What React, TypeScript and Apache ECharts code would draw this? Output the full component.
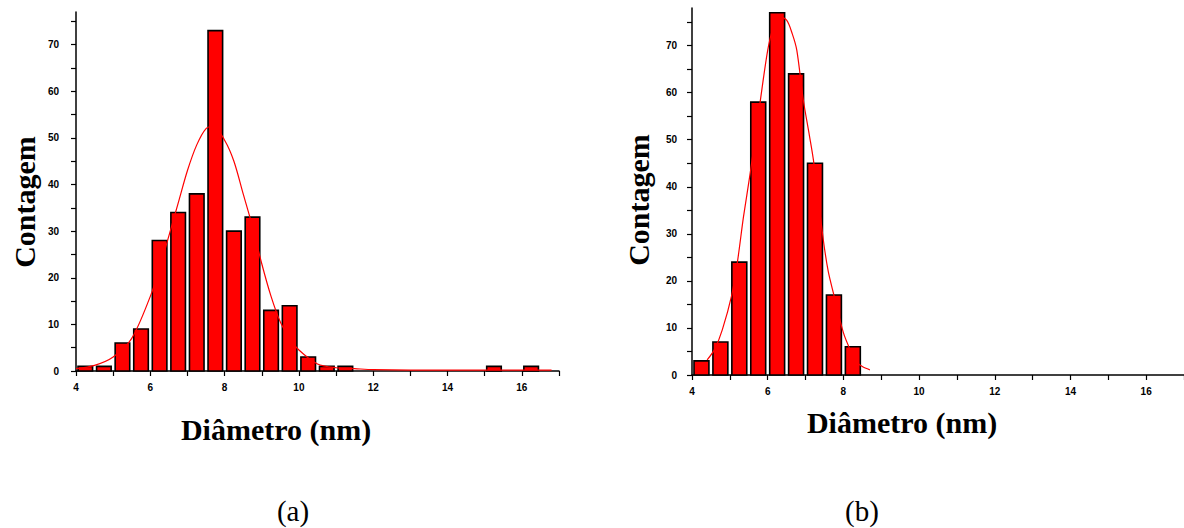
import React, { useEffect, useRef } from "react";
import * as echarts from "echarts";

// ---- data ----
const binWidth = 0.5;

const binsA = [4, 4.5, 5, 5.5, 6, 6.5, 7, 7.5, 8, 8.5, 9, 9.5, 10, 10.5, 11, 15, 16];
const countsA = [1, 1, 6, 9, 28, 34, 38, 73, 30, 33, 13, 14, 3, 1, 1, 1, 1];

const fitXA = [4.0, 4.5, 5.0, 5.5, 6.0, 6.25, 6.5, 6.75, 7.0, 7.25, 7.5, 7.7, 8.0, 8.25, 8.5, 8.75, 9.0, 9.25, 9.5, 9.75, 10.0, 10.5, 11.0, 11.5, 12, 13, 14, 15, 16, 16.8];
const fitYA = [0.5, 1.2, 3, 7, 16, 22, 29, 36, 43, 48.5, 52, 52.5, 49.5, 45, 38, 31, 23, 16, 10.5, 7, 4.5, 1.5, 0.7, 0.5, 0.3, 0.2, 0.2, 0.2, 0.2, 0.2];

const binsB = [4, 4.5, 5, 5.5, 6, 6.5, 7, 7.5, 8];
const countsB = [3, 7, 24, 58, 77, 64, 45, 17, 6];

const fitXB = [4.4, 4.6, 4.8, 5.05, 5.2, 5.36, 5.54, 5.8, 6.0, 6.15, 6.3, 6.5, 6.65, 6.77, 6.94, 7.1, 7.21, 7.47, 7.6, 7.74, 8.0, 8.2, 8.35, 8.5, 8.7];
const fitYB = [3.2, 5.5, 9.6, 17, 24, 33.6, 43, 58, 69, 74, 76.2, 75.4, 72.5, 69, 58.5, 51, 45.6, 28.7, 22, 17.3, 9, 5, 2.8, 1.8, 1.1];

const xTickValues = [4, 5, 6, 7, 8, 9, 10, 11, 12, 13, 14, 15, 16, 17];
const xLabelValues = [4, 6, 8, 10, 12, 14, 16];
const yTickValues = [0, 5, 10, 15, 20, 25, 30, 35, 40, 45, 50, 55, 60, 65, 70, 75];
const yLabelValues = [0, 10, 20, 30, 40, 50, 60, 70];

const yTitle = "Contagem";
const xTitle = "Diâmetro (nm)";
const panelLabels = ["(a)", "(b)"];

const serif = "'Liberation Serif', 'Times New Roman', serif";

function xAxisCfg(gridIndex: number) {
  return {
    type: "value",
    gridIndex,
    min: 4,
    max: 17,
    axisLine: { show: true, onZero: false, lineStyle: { color: "#000", width: 1.5 } },
    axisTick: { show: true, customValues: xTickValues, length: 5, lineStyle: { color: "#000", width: 1.2 } },
    axisLabel: {
      customValues: xLabelValues,
      margin: 11,
      color: "#000",
      fontSize: 10,
      fontWeight: "bold",
      fontFamily: "'Liberation Sans', Arial, sans-serif",
    },
    splitLine: { show: false },
  };
}

function yAxisCfg(gridIndex: number, max: number, margin: number) {
  return {
    type: "value",
    gridIndex,
    min: 0,
    max,
    axisLine: { show: true, onZero: false, lineStyle: { color: "#000", width: 1.5 } },
    axisTick: { show: true, customValues: yTickValues, length: 5, lineStyle: { color: "#000", width: 1.2 } },
    axisLabel: {
      customValues: yLabelValues,
      margin,
      color: "#000",
      fontSize: 10,
      fontWeight: "bold",
      fontFamily: "'Liberation Sans', Arial, sans-serif",
    },
    splitLine: { show: false },
  };
}

const renderBar = (params: any, api: any) => {
  const x0 = api.value(0);
  const x1 = api.value(1);
  const y = api.value(2);
  const p0 = api.coord([x0, y]);
  const p1 = api.coord([x1, 0]);
  const inset = 2;
  return {
    type: "rect",
    shape: { x: p0[0] + inset, y: p0[1], width: p1[0] - p0[0] - 2 * inset, height: p1[1] - p0[1] },
    style: { fill: "#ff0000", stroke: "#000", lineWidth: 1.6 },
  };
};

export default function App() {
  const ref = useRef<HTMLDivElement>(null);

  useEffect(() => {
    if (!ref.current) return;
    const chart = echarts.init(ref.current, null, { renderer: "svg" });

    const barsA = binsA.map((b, i) => [b, b + binWidth, countsA[i]]);
    const barsB = binsB.map((b, i) => [b, b + binWidth, countsB[i]]);
    const curveA = fitXA.map((x, i) => [x, fitYA[i]]);
    const curveB = fitXB.map((x, i) => [x, fitYB[i]]);

    chart.setOption({
      animation: false,
      backgroundColor: "#fff",
      grid: [
        { left: 76, right: 625, top: 12, bottom: 157 },
        { left: 692, right: 0, top: 8, bottom: 153 },
      ],
      xAxis: [xAxisCfg(0), xAxisCfg(1)],
      yAxis: [yAxisCfg(0, 77, 17), yAxisCfg(1, 78, 15)],
      series: [
        {
          type: "custom",
          xAxisIndex: 0,
          yAxisIndex: 0,
          renderItem: renderBar,
          encode: { x: [0, 1], y: 2 },
          data: barsA,
          z: 2,
        },
        {
          type: "line",
          xAxisIndex: 0,
          yAxisIndex: 0,
          data: curveA,
          smooth: 0.3,
          showSymbol: false,
          symbol: "none",
          lineStyle: { color: "#ff0000", width: 1.2 },
          z: 3,
        },
        {
          type: "custom",
          xAxisIndex: 1,
          yAxisIndex: 1,
          renderItem: renderBar,
          encode: { x: [0, 1], y: 2 },
          data: barsB,
          z: 2,
        },
        {
          type: "line",
          xAxisIndex: 1,
          yAxisIndex: 1,
          data: curveB,
          smooth: 0.3,
          showSymbol: false,
          symbol: "none",
          lineStyle: { color: "#ff0000", width: 1.2 },
          z: 3,
        },
      ],
      graphic: [
        {
          type: "text",
          x: 24,
          y: 202,
          rotation: Math.PI / 2,
          style: { text: yTitle, font: `bold 30px ${serif}`, fill: "#000", align: "center", verticalAlign: "middle" },
        },
        {
          type: "text",
          x: 638,
          y: 200,
          rotation: Math.PI / 2,
          style: { text: yTitle, font: `bold 30px ${serif}`, fill: "#000", align: "center", verticalAlign: "middle" },
        },
        {
          type: "text",
          x: 276,
          y: 429,
          style: { text: xTitle, font: `bold 30px ${serif}`, fill: "#000", align: "center", verticalAlign: "middle" },
        },
        {
          type: "text",
          x: 902,
          y: 422,
          style: { text: xTitle, font: `bold 30px ${serif}`, fill: "#000", align: "center", verticalAlign: "middle" },
        },
        {
          type: "text",
          x: 293,
          y: 511,
          style: { text: panelLabels[0], font: `29px ${serif}`, fill: "#000", align: "center", verticalAlign: "middle" },
        },
        {
          type: "text",
          x: 862,
          y: 511,
          style: { text: panelLabels[1], font: `29px ${serif}`, fill: "#000", align: "center", verticalAlign: "middle" },
        },
      ],
    });

    return () => chart.dispose();
  }, []);

  return (
    <div
      ref={ref}
      style={{ position: "absolute", left: 0, top: 0, width: 1184, height: 528 }}
    />
  );
}
